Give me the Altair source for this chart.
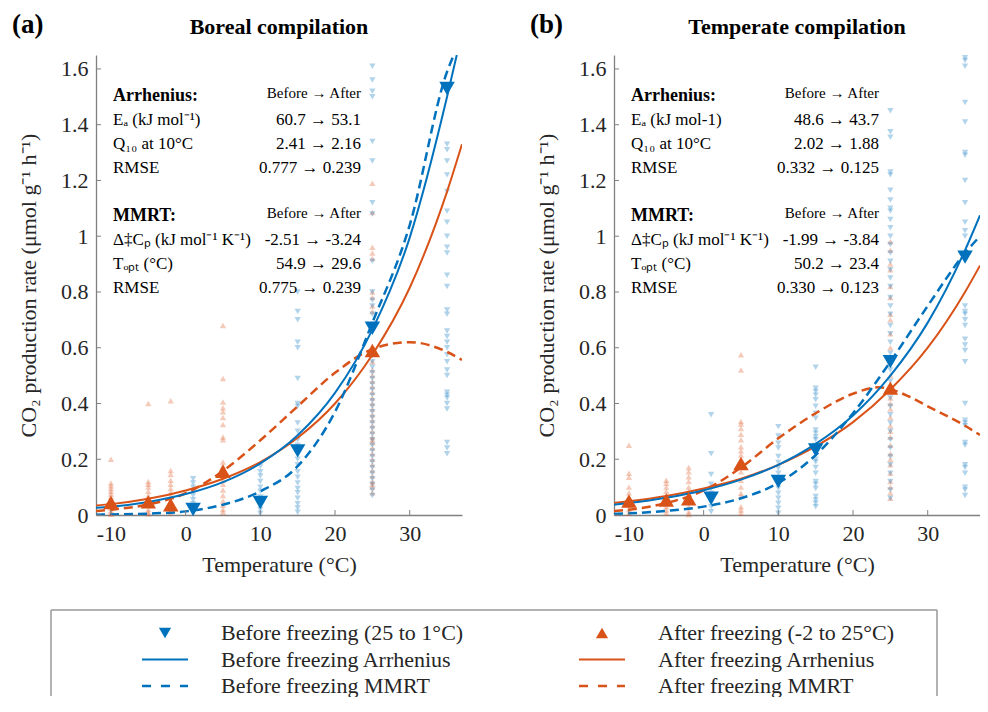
import altair as alt
import pandas as pd

FONT = "Liberation Serif"
BLUE = "#0072BD"
ORANGE = "#D95319"
AXIS_GRAY = "#808080"
TEXT = "#262626"

W, H = 366, 460

X_TICKS = [-10, 0, 10, 20, 30]
Y_TICKS = [0, 0.2, 0.4, 0.6, 0.8, 1.0, 1.2, 1.4, 1.6]

# ---------------- panel (a) Boreal: individual observations ----------------
A_AFTER_M10 = [0.20, 0.115, 0.105, 0.095, 0.085, 0.075, 0.065, 0.055, 0.045, 0.035, 0.025, 0.015, 0.008, 0.003]
A_AFTER_M5 = [0.40, 0.12, 0.11, 0.10, 0.085, 0.07, 0.055, 0.045, 0.035, 0.02, 0.01, 0.004]
A_AFTER_M2 = [0.41, 0.16, 0.145, 0.125, 0.11, 0.095, 0.08, 0.065, 0.05, 0.035, 0.02, 0.008]
A_AFTER_5 = [0.68, 0.49, 0.405, 0.385, 0.37, 0.35, 0.325, 0.28, 0.27, 0.19, 0.175, 0.16, 0.14,
             0.125, 0.11, 0.09, 0.07, 0.05, 0.035, 0.02, 0.01]
A_AFTER_25 = [1.19, 1.085, 0.96, 0.94, 0.92, 0.80, 0.78, 0.75, 0.73, 0.55, 0.52, 0.50, 0.48, 0.46,
              0.44, 0.42, 0.40, 0.38, 0.36, 0.34, 0.32, 0.30, 0.28, 0.27, 0.26, 0.24, 0.22, 0.20,
              0.18, 0.16, 0.14, 0.12, 0.11, 0.10, 0.08]
A_BEFORE_1 = [0.13, 0.115, 0.10, 0.085, 0.07, 0.055, 0.04, 0.025, 0.01]
A_BEFORE_10 = [0.175, 0.155, 0.14, 0.12, 0.10, 0.085, 0.065, 0.05, 0.035, 0.02, 0.005]
A_BEFORE_15 = [0.80, 0.73, 0.70, 0.62, 0.60, 0.49, 0.40, 0.39, 0.33, 0.30, 0.27, 0.25, 0.22, 0.20,
               0.18, 0.155, 0.135, 0.115, 0.095, 0.08, 0.06, 0.04, 0.025, 0.01]
A_BEFORE_25 = [1.61, 1.56, 1.52, 1.50, 1.34, 1.27, 1.12, 1.08, 0.91, 0.80, 0.77, 0.75, 0.72, 0.57,
               0.55, 0.53, 0.51, 0.49, 0.47, 0.45, 0.43, 0.41, 0.39, 0.37, 0.35, 0.33, 0.31, 0.29,
               0.27, 0.25, 0.23, 0.21, 0.19, 0.17, 0.15, 0.13, 0.11, 0.09, 0.07]
A_BEFORE_35 = [1.33, 1.31, 1.27, 1.22, 1.16, 1.09, 1.05, 1.00, 0.96, 0.94, 0.86, 0.82, 0.735, 0.72,
               0.66, 0.64, 0.62, 0.60, 0.575, 0.55, 0.52, 0.50, 0.44, 0.43, 0.42, 0.40, 0.38,
               0.26, 0.24, 0.22]

# ---------------- panel (b) Temperate: individual observations ----------------
B_AFTER_M10 = [0.25, 0.15, 0.135, 0.10, 0.08, 0.055, 0.035, 0.02, 0.006]
B_AFTER_M5 = [0.125, 0.114, 0.10, 0.085, 0.066, 0.054, 0.042, 0.03, 0.018, 0.006]
B_AFTER_M2 = [0.17, 0.155, 0.137, 0.12, 0.10, 0.084, 0.066, 0.048, 0.03, 0.012, 0.002]
B_AFTER_5 = [0.575, 0.52, 0.335, 0.326, 0.31, 0.29, 0.27, 0.245, 0.23, 0.215, 0.19, 0.155,
             0.125, 0.10, 0.078, 0.066, 0.03, 0.018, 0.006]
B_AFTER_25 = [0.98, 0.95, 0.90, 0.88, 0.82, 0.78, 0.72, 0.70, 0.65, 0.60, 0.55, 0.50, 0.46, 0.42,
              0.40, 0.38, 0.35, 0.32, 0.30, 0.28, 0.25, 0.22, 0.20, 0.18, 0.15, 0.12, 0.10,
              0.08, 0.06]
B_BEFORE_1 = [0.36, 0.22, 0.145, 0.11, 0.096, 0.078, 0.06, 0.044, 0.03, 0.012]
B_BEFORE_10 = [0.317, 0.283, 0.257, 0.24, 0.21, 0.188, 0.168, 0.15, 0.13, 0.114, 0.096, 0.078,
               0.06, 0.042, 0.024, 0.006]
B_BEFORE_15 = [0.53, 0.455, 0.443, 0.43, 0.413, 0.39, 0.365, 0.347, 0.305, 0.293, 0.28, 0.27,
               0.25, 0.23, 0.20, 0.19, 0.17, 0.15, 0.12, 0.11, 0.095, 0.066, 0.054, 0.042, 0.03]
B_BEFORE_25 = [1.45, 1.375, 1.355, 1.23, 1.22, 1.165, 1.13, 1.10, 1.09, 1.06, 1.03, 1.00, 0.97,
               0.94, 0.91, 0.88, 0.85, 0.82, 0.78, 0.75, 0.72, 0.68, 0.65, 0.62, 0.58, 0.55,
               0.52, 0.48, 0.45, 0.42, 0.39, 0.36, 0.33, 0.30, 0.27, 0.24, 0.21, 0.18, 0.15,
               0.12, 0.09, 0.06]
B_BEFORE_35 = [1.64, 1.63, 1.61, 1.48, 1.41, 1.30, 1.29, 1.20, 1.12, 1.05, 1.02, 1.00, 0.75,
               0.73, 0.72, 0.70, 0.68, 0.63, 0.61, 0.59, 0.55, 0.40, 0.34, 0.33, 0.32, 0.26,
               0.25, 0.18, 0.17, 0.15, 0.10, 0.09, 0.07]

# ---------------- mean values (large markers) ----------------
BEFORE_TEMPS = [1, 10, 15, 25, 35]
AFTER_TEMPS = [-10, -5, -2, 5, 25]
A_BEFORE_MEAN = [0.02, 0.045, 0.23, 0.67, 1.53]
A_AFTER_MEAN = [0.045, 0.047, 0.037, 0.157, 0.59]
B_BEFORE_MEAN = [0.06, 0.12, 0.233, 0.55, 0.925]
B_AFTER_MEAN = [0.05, 0.054, 0.058, 0.185, 0.455]

# ---------------- fitted curves ----------------
CURVE_T = [-12, -10, -5, 0, 5, 10, 15, 20, 25, 30, 35, 37]
A_BEFORE_ARR_T = [-12, -10, -5, 0, 5, 10, 15, 20, 25, 30, 35, 36.3]
A_BEFORE_ARR = [0.026, 0.03, 0.047, 0.075, 0.118, 0.185, 0.286, 0.438, 0.665, 0.995, 1.50, 1.65]
A_BEFORE_MMRT_T = [-12, -10, -5, 0, 5, 10, 15, 20, 25, 30, 35, 35.9]
A_BEFORE_MMRT = [0.001, 0.002, 0.005, 0.013, 0.037, 0.085, 0.175, 0.37, 0.69, 1.04, 1.59, 1.65]
A_AFTER_ARR = [0.034, 0.039, 0.058, 0.088, 0.13, 0.19, 0.277, 0.40, 0.575, 0.815, 1.16, 1.33]
A_AFTER_MMRT = [0.014, 0.019, 0.038, 0.078, 0.158, 0.268, 0.39, 0.51, 0.595, 0.62, 0.585, 0.556]
B_BEFORE_ARR = [0.037, 0.043, 0.062, 0.089, 0.127, 0.18, 0.255, 0.357, 0.50, 0.69, 0.95, 1.075]
B_BEFORE_MMRT = [0.004, 0.006, 0.015, 0.03, 0.06, 0.115, 0.215, 0.365, 0.55, 0.75, 0.94, 1.0]
B_AFTER_ARR = [0.043, 0.049, 0.068, 0.095, 0.13, 0.18, 0.246, 0.333, 0.45, 0.60, 0.80, 0.895]
B_AFTER_MMRT_T = [-12, -10, -5, 0, 5, 10, 15, 20, 23.4, 27.5, 30, 35, 37]
B_AFTER_MMRT = [0.014, 0.019, 0.043, 0.088, 0.17, 0.275, 0.365, 0.435, 0.458, 0.425, 0.39, 0.32, 0.287]

# ---------------- texts ----------------
TITLES = ["Boreal compilation", "Temperate compilation"]
TAGS = ["(a)", "(b)"]
HEADERS = ["Arrhenius:", "MMRT:"]
A_LEFT = ["Eₐ (kJ mol⁻¹)", "Q₁₀ at 10°C", "RMSE", "Δ‡Cₚ (kJ mol⁻¹ K⁻¹)", "Tₒₚₜ (°C)", "RMSE"]
B_LEFT = ["Eₐ (kJ mol-1)", "Q₁₀ at 10°C", "RMSE", "Δ‡Cₚ (kJ mol⁻¹ K⁻¹)", "Tₒₚₜ (°C)", "RMSE"]
A_VALUES = ["60.7 → 53.1", "2.41 → 2.16", "0.777 → 0.239", "-2.51 → -3.24", "54.9 → 29.6", "0.775 → 0.239"]
B_VALUES = ["48.6 → 43.7", "2.02 → 1.88", "0.332 → 0.125", "-1.99 → -3.84", "50.2 → 23.4", "0.330 → 0.123"]
LEG_LABELS = ["Before freezing (25 to 1°C)", "After freezing (-2 to 25°C)",
              "Before freezing Arrhenius", "After freezing Arrhenius",
              "Before freezing MMRT", "After freezing MMRT"]

ONE = pd.DataFrame({"k": [0]})

xenc = alt.X("T:Q", scale=alt.Scale(domain=[-12, 37], nice=False, zero=False),
             axis=alt.Axis(values=X_TICKS, title="Temperature (°C)", ticks=False,
                           labelExpr="replace(datum.label, '\u2212', '-')"))
yenc = alt.Y("v:Q", scale=alt.Scale(domain=[0, 1.65], nice=False, zero=False),
             axis=alt.Axis(values=Y_TICKS, format=".1~f", ticks=False,
                           title="CO₂ production rate (μmol g⁻¹ h⁻¹)"))


def obs_df(temps, cols):
    rows = [{"T": t, "v": v} for t, vals in zip(temps, cols) for v in vals]
    return pd.DataFrame(rows)


def curve_df(temps, vals):
    return pd.DataFrame({"T": temps, "v": vals})


def txt(s, x, y, size=17, align="left", weight="normal"):
    return alt.Chart(ONE).mark_text(text=s, font=FONT, fontSize=size, align=align,
                                    baseline="middle", fontWeight=weight, color="black").encode(
        x=alt.value(x), y=alt.value(y))


def panel(idx, before_obs, after_obs, before_mean, after_mean, curves, left, values):
    layers = []
    layers.append(alt.Chart(after_obs).mark_point(shape="triangle-up", filled=True, size=40,
                                                  color=ORANGE, opacity=0.3).encode(x=xenc, y=yenc))
    layers.append(alt.Chart(before_obs).mark_point(shape="triangle-down", filled=True, size=40,
                                                   color=BLUE, opacity=0.3).encode(x=xenc, y=yenc))
    (ba_t, ba), (bm_t, bm), (aa_t, aa), (am_t, am) = curves
    layers.append(alt.Chart(curve_df(aa_t, aa)).mark_line(color=ORANGE, strokeWidth=2,
                  interpolate="monotone", clip=True).encode(x=xenc, y=yenc))
    layers.append(alt.Chart(curve_df(am_t, am)).mark_line(color=ORANGE, strokeWidth=2.5, strokeDash=[9, 5],
                  interpolate="monotone", clip=True).encode(x=xenc, y=yenc))
    layers.append(alt.Chart(curve_df(ba_t, ba)).mark_line(color=BLUE, strokeWidth=2,
                  interpolate="monotone", clip=True).encode(x=xenc, y=yenc))
    layers.append(alt.Chart(curve_df(bm_t, bm)).mark_line(color=BLUE, strokeWidth=2.5, strokeDash=[9, 5],
                  interpolate="monotone", clip=True).encode(x=xenc, y=yenc))
    layers.append(alt.Chart(curve_df(BEFORE_TEMPS, before_mean)).mark_point(
        shape="triangle-down", filled=True, size=240, color=BLUE, opacity=1).encode(x=xenc, y=yenc))
    layers.append(alt.Chart(curve_df(AFTER_TEMPS, after_mean)).mark_point(
        shape="triangle-up", filled=True, size=240, color=ORANGE, opacity=1).encode(x=xenc, y=yenc))
    # inward ticks
    layers.append(alt.Chart(pd.DataFrame({"v": Y_TICKS})).mark_rule(color=AXIS_GRAY, strokeWidth=1).encode(
        y=yenc, x=alt.value(0), x2=alt.value(5)))
    layers.append(alt.Chart(pd.DataFrame({"T": X_TICKS})).mark_rule(color=AXIS_GRAY, strokeWidth=1).encode(
        x=xenc, y=alt.value(H), y2=alt.value(H - 5)))
    # titles
    layers.append(txt(TAGS[idx], -84, -30, size=27, weight="bold"))
    layers.append(txt(TITLES[idx], W / 2, -28, size=22, align="center", weight="bold"))
    # annotation block
    for h, hy in enumerate([41, 161]):
        layers.append(txt(HEADERS[h], 17, hy, size=18, weight="bold"))
        layers.append(txt("Before → After", 265, hy - 3, size=15, align="right"))
        for k in range(3):
            i = h * 3 + k
            layers.append(txt(left[i], 17, hy + 24 * (k + 1), size=17))
            layers.append(txt(values[i], 265, hy + 24 * (k + 1), size=17, align="right"))
    return alt.layer(*layers).properties(width=W, height=H)


pa = panel(0,
           obs_df(BEFORE_TEMPS, [A_BEFORE_1, A_BEFORE_10, A_BEFORE_15, A_BEFORE_25, A_BEFORE_35]),
           obs_df(AFTER_TEMPS, [A_AFTER_M10, A_AFTER_M5, A_AFTER_M2, A_AFTER_5, A_AFTER_25]),
           A_BEFORE_MEAN, A_AFTER_MEAN,
           [(A_BEFORE_ARR_T, A_BEFORE_ARR), (A_BEFORE_MMRT_T, A_BEFORE_MMRT),
            (CURVE_T, A_AFTER_ARR), (CURVE_T, A_AFTER_MMRT)],
           A_LEFT, A_VALUES)
pb = panel(1,
           obs_df(BEFORE_TEMPS, [B_BEFORE_1, B_BEFORE_10, B_BEFORE_15, B_BEFORE_25, B_BEFORE_35]),
           obs_df(AFTER_TEMPS, [B_AFTER_M10, B_AFTER_M5, B_AFTER_M2, B_AFTER_5, B_AFTER_25]),
           B_BEFORE_MEAN, B_AFTER_MEAN,
           [(CURVE_T, B_BEFORE_ARR), (CURVE_T, B_BEFORE_MMRT),
            (CURVE_T, B_AFTER_ARR), (B_AFTER_MMRT_T, B_AFTER_MMRT)],
           B_LEFT, B_VALUES)

# ---------------- legend panel (origin aligned with panel (a) plot area) ----------------
HL = 86
BOX_L, BOX_R = -45, 841
leg = pd.DataFrame({"label": LEG_LABELS,
                    "col": [i % 2 for i in range(len(LEG_LABELS))],
                    "row": [i // 2 for i in range(len(LEG_LABELS))]})
lx = alt.X("col:Q", scale=alt.Scale(domain=[0, 1], range=[69, 506]), axis=None)
ly = alt.Y("row:Q", scale=alt.Scale(domain=[0, 2], range=[23, 76]), axis=None)
lcol = alt.Color("col:N", scale=alt.Scale(domain=[0, 1], range=[BLUE, ORANGE]), legend=None)

leg_layers = [
    alt.Chart(ONE).mark_rule(color="#999999", strokeWidth=1.5).encode(
        x=alt.value(BOX_L), x2=alt.value(BOX_R), y=alt.value(0)),
    alt.Chart(ONE).mark_rule(color="#999999", strokeWidth=1.5).encode(
        x=alt.value(BOX_L), y=alt.value(0), y2=alt.value(HL)),
    alt.Chart(ONE).mark_rule(color="#999999", strokeWidth=1.5).encode(
        x=alt.value(BOX_R), y=alt.value(0), y2=alt.value(HL)),
    alt.Chart(leg).transform_filter("datum.row == 0 && datum.col == 0").mark_point(
        shape="triangle-down", filled=True, size=150, color=BLUE, opacity=1).encode(x=lx, y=ly),
    alt.Chart(leg).transform_filter("datum.row == 0 && datum.col == 1").mark_point(
        shape="triangle-up", filled=True, size=150, color=ORANGE, opacity=1).encode(x=lx, y=ly),
    alt.Chart(leg).transform_filter("datum.row == 1").mark_rule(
        strokeWidth=2, xOffset=-23, x2Offset=23).encode(x=lx, x2="col:Q", y=ly, color=lcol),
    alt.Chart(leg).transform_filter("datum.row == 2").mark_rule(
        strokeWidth=2.5, strokeDash=[9, 10], xOffset=-23, x2Offset=23).encode(x=lx, x2="col:Q", y=ly, color=lcol),
    alt.Chart(leg).mark_text(align="left", baseline="middle", dx=56, font=FONT, fontSize=22,
                             color=TEXT).encode(x=lx, y=ly, text="label:N"),
]
legend_panel = alt.layer(*leg_layers).properties(width=845, height=HL)

chart = alt.vconcat(alt.hconcat(pa, pb, spacing=68), legend_panel, spacing=34).properties(
    padding={"left": 4, "top": 3, "right": 0, "bottom": 0}
).configure_view(stroke=None).configure_axis(
    labelFont=FONT, titleFont=FONT, labelFontSize=22, titleFontSize=22, titleFontWeight="normal",
    labelColor=TEXT, titleColor=TEXT, domainColor=AXIS_GRAY, domainWidth=1.3, grid=False,
    labelPadding=8
).configure_axisX(titlePadding=10).configure_axisY(titlePadding=20)

chart.save("out.html", embed_options={"renderer": "svg", "actions": False})
